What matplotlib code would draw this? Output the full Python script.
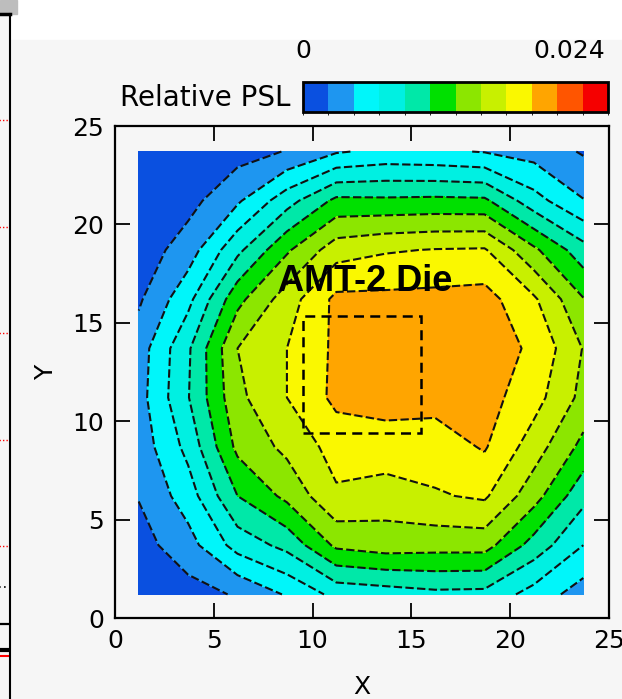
import numpy as np
import matplotlib
matplotlib.use("Agg")
import matplotlib.pyplot as plt
from matplotlib.colors import ListedColormap, BoundaryNorm
from matplotlib.patches import Rectangle
import matplotlib.cm as cm

# ---------------- data ----------------
# measurement grid, same spacing in x and y
xs = [1.2, 3.7, 6.2, 8.7, 11.2, 13.7, 16.2, 18.7, 21.2, 23.7]
ys = [1.2, 3.7, 6.2, 8.7, 11.2, 13.7, 16.2, 18.7, 21.2, 23.7]

# relative PSL, one row per y (bottom -> top), columns follow xs
psl_y01 = [0.0005, 0.0012, 0.0022, 0.0042, 0.0066, 0.0070, 0.0075, 0.0074, 0.0052, 0.0030]
psl_y04 = [0.0012, 0.0032, 0.0068, 0.0086, 0.0124, 0.0130, 0.0128, 0.0128, 0.0092, 0.0060]
psl_y06 = [0.0021, 0.0050, 0.0100, 0.0125, 0.0157, 0.0150, 0.0158, 0.0163, 0.0128, 0.0086]
psl_y09 = [0.0028, 0.0066, 0.0125, 0.0145, 0.0168, 0.0172, 0.0170, 0.0182, 0.0150, 0.0114]
psl_y11 = [0.0032, 0.0079, 0.0135, 0.0160, 0.0185, 0.0187, 0.0187, 0.0188, 0.0168, 0.0134]
psl_y14 = [0.0030, 0.0077, 0.0140, 0.0160, 0.0184, 0.0189, 0.0190, 0.0189, 0.0177, 0.0139]
psl_y16 = [0.0017, 0.0054, 0.0114, 0.0150, 0.0185, 0.0185, 0.0186, 0.0188, 0.0163, 0.0121]
psl_y19 = [0.0008, 0.0030, 0.0075, 0.0117, 0.0151, 0.0158, 0.0161, 0.0162, 0.0124, 0.0088]
psl_y21 = [0.0006, 0.0013, 0.0037, 0.0072, 0.0105, 0.0104, 0.0105, 0.0104, 0.0068, 0.0041]
psl_y24 = [0.0003, 0.0006, 0.0012, 0.0021, 0.0038, 0.0045, 0.0043, 0.0039, 0.0032, 0.0018]

psl_min, psl_max, psl_step = 0.0, 0.024, 0.002
band_colors = ["#0a50e0", "#1e96f0", "#00f6fa", "#00f0e2", "#00e8a8", "#00e000",
               "#8ce600", "#c8f000", "#faf800", "#ffa500", "#ff5500", "#f50000"]

# the die outline
die_x, die_y, die_w, die_h = 9.5, 9.4, 6.0, 5.95
die_label = "AMT-2 Die"
die_label_xy = (12.65, 17.1)

# neighbouring panel cut off at the left edge
strip_grid = [1, 2, 3, 4, 5]

# ---------------- figure ----------------
W, H = 622, 699
fig = plt.figure(figsize=(W / 100, H / 100), dpi=100)
fig.patch.set_facecolor("white")
panel_bg = "#f6f6f6"
fig.patches.append(Rectangle((10 / W, 0), 1, 1 - 40 / H, transform=fig.transFigure,
                             color=panel_bg, zorder=-5))
fig.patches.append(Rectangle((0, 1 - 14 / H), 17 / W, 14 / H, transform=fig.transFigure,
                             color="#bdbdbd", zorder=-5))

# left strip (piece of another panel)
axs = fig.add_axes([-0.2, -0.06, 0.2 + 10 / W, 1.06 - 14 / H])
axs.set_facecolor(panel_bg)
axs.set_xlim(0, 1)
axs.set_ylim(-0.83, 6.0)
axs.set_yticks(strip_grid)
axs.yaxis.grid(True, color="red", ls=(0, (1, 1.5)), lw=1.0)
axs.tick_params(length=0, labelleft=False, labelbottom=False)
axs.axhline(0.27, color="k", lw=1.6)
axs.axhline(0.02, color="k", lw=3)
axs.axhline(-0.03, color="red", lw=1.5)
axs.axhline(0.62, color="k", lw=1.2, ls=(0, (1, 2)))
for s in ["left", "bottom"]:
    axs.spines[s].set_visible(False)
axs.spines["right"].set_linewidth(1.5)
axs.spines["top"].set_linewidth(2.5)

# main contour plot
Z = np.array([psl_y01, psl_y04, psl_y06, psl_y09, psl_y11,
              psl_y14, psl_y16, psl_y19, psl_y21, psl_y24])
levels = np.arange(psl_min, psl_max + psl_step / 2, psl_step)
cmap = ListedColormap(band_colors)
norm = BoundaryNorm(levels, cmap.N)

ax = fig.add_axes([115 / W, 1 - 618 / H, 494 / W, 492 / H])
ax.set_facecolor(panel_bg)
ax.contourf(xs, ys, Z, levels=levels, cmap=cmap, norm=norm)
ax.contour(xs, ys, Z, levels=levels[1:-1], colors="#111111", linewidths=1.5,
           linestyles=[(0, (4, 1.6))])

ax.add_patch(Rectangle((die_x, die_y), die_w, die_h, fill=False, ec="k",
                       lw=1.8, ls=(0, (4, 2.5)), zorder=5))
ax.text(*die_label_xy, die_label, ha="center", va="center", fontsize=26,
        fontweight="bold", family="Liberation Sans", zorder=6)

ax.set_xlim(0, 25)
ax.set_ylim(0, 25)
ax.set_xticks(range(0, 26, 5))
ax.set_yticks(range(0, 26, 5))
ax.tick_params(direction="in", length=11, width=1.3, top=True, right=True,
               labelsize=18, pad=8)
for s in ax.spines.values():
    s.set_linewidth(1.6)
ax.set_xlabel("X", fontsize=18, labelpad=16)
ax.set_ylabel("Y", fontsize=18, labelpad=10)

# colour bar on top
cax = fig.add_axes([303 / W, 1 - 112 / H, 305 / W, 30 / H])
cb = fig.colorbar(cm.ScalarMappable(norm=norm, cmap=cmap), cax=cax,
                  orientation="horizontal", ticks=[])
cb.outline.set_linewidth(2)
cax.text(0, 2.05, f"{psl_min:g}", transform=cax.transAxes, ha="center",
         va="center", fontsize=18)
cax.text(0.99, 2.05, f"{psl_max:g}", transform=cax.transAxes, ha="right",
         va="center", fontsize=18)
cax.text(-0.04, 0.45, "Relative PSL", transform=cax.transAxes, ha="right",
         va="center", fontsize=20)

fig.savefig("out.png", dpi=100, facecolor=fig.get_facecolor())
